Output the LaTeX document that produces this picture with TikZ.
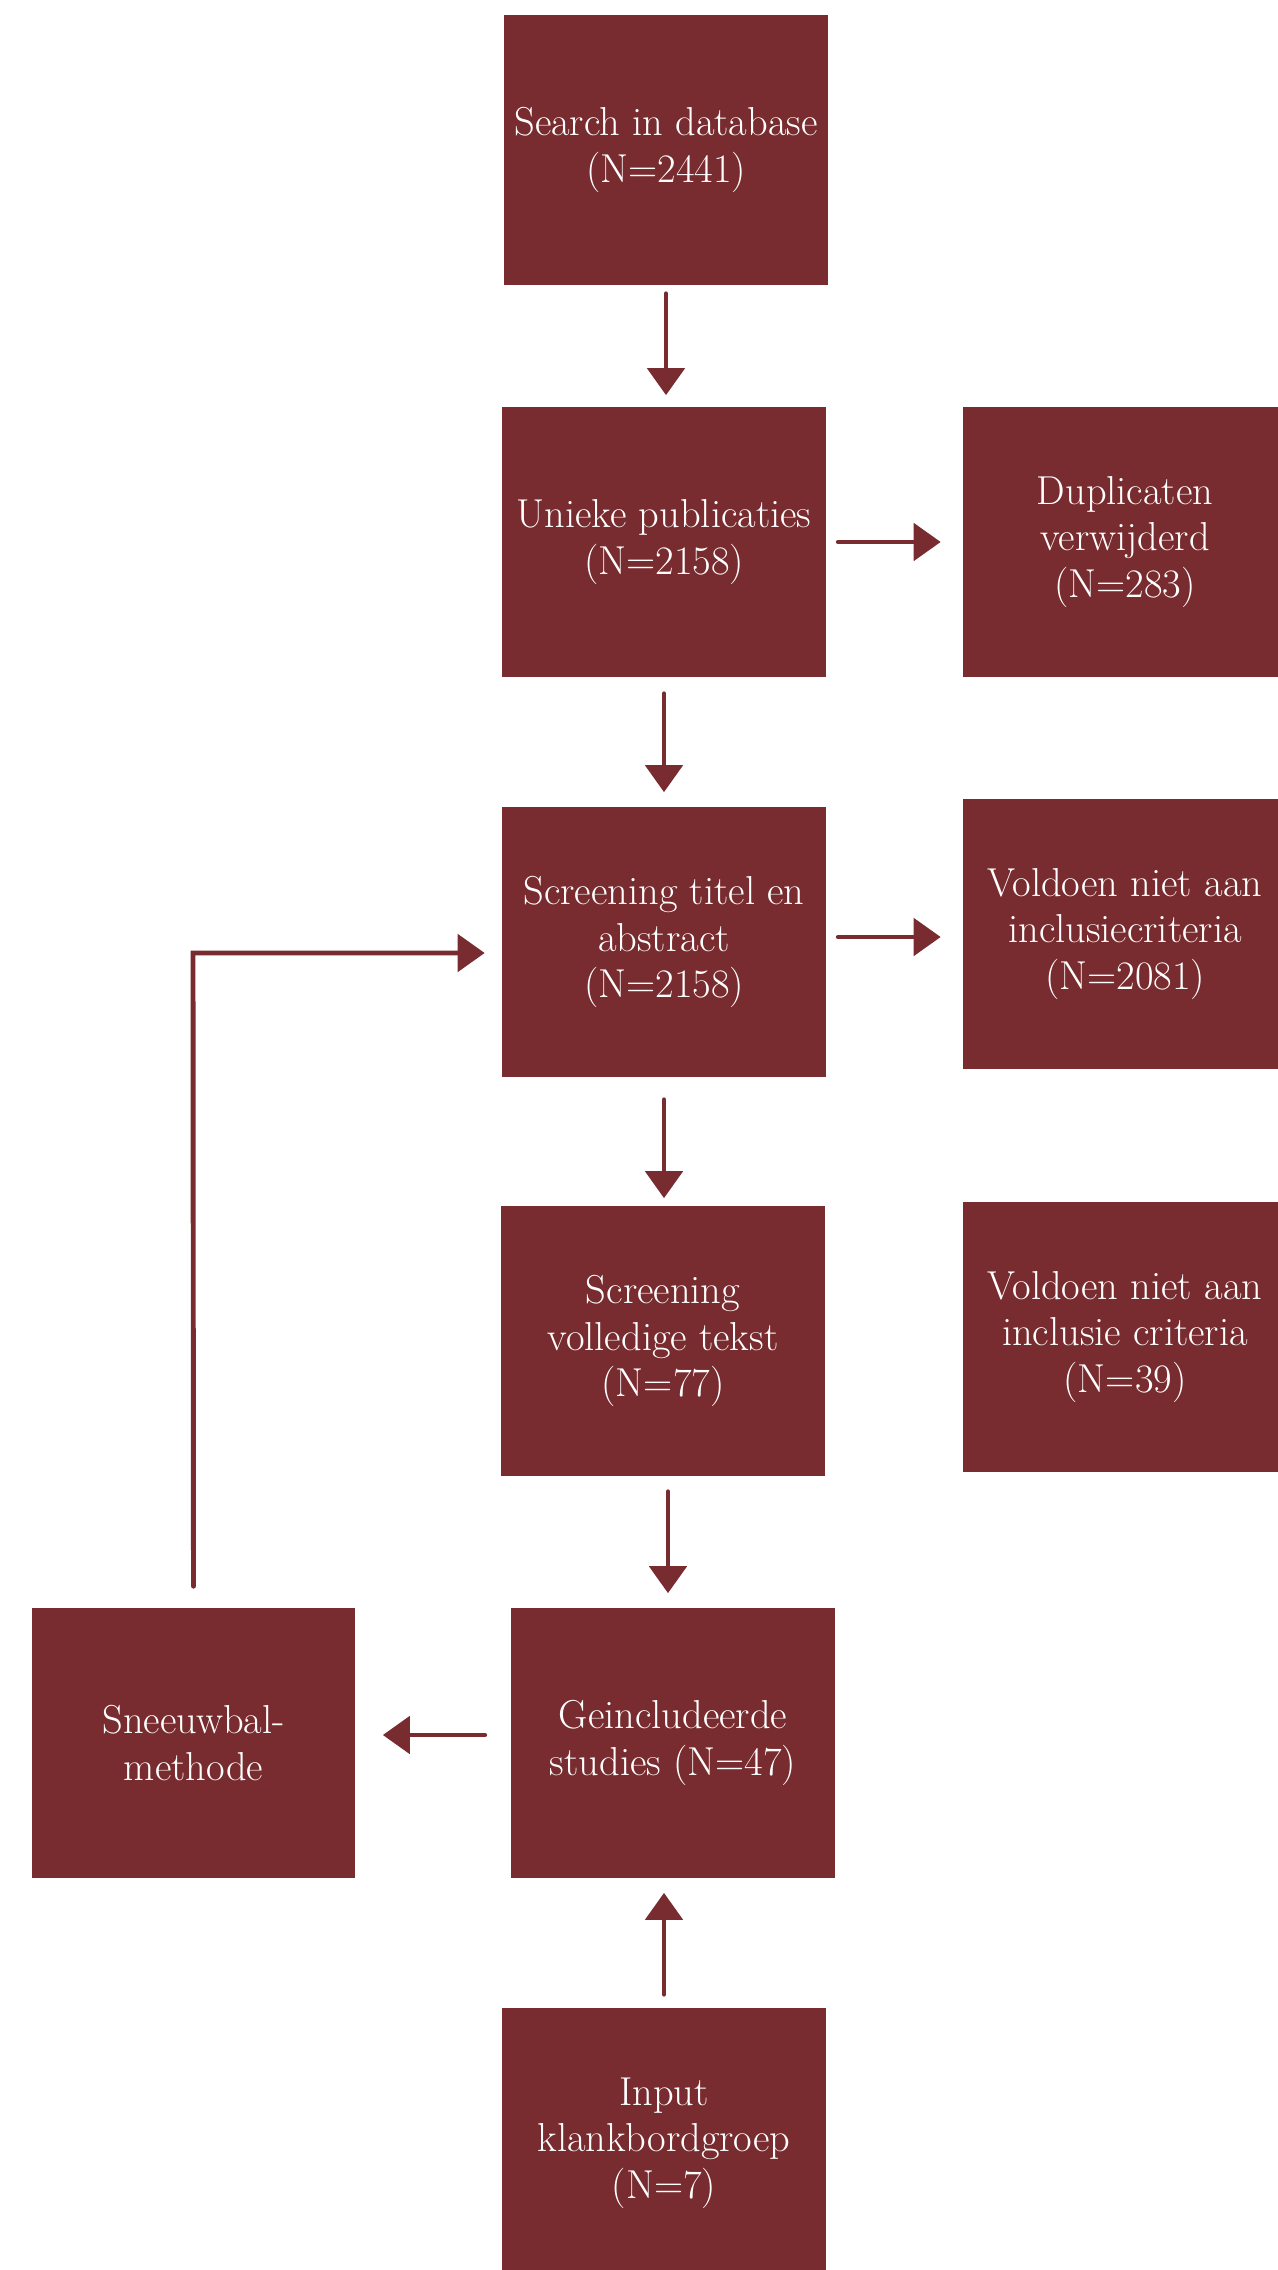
\documentclass[tikz,border=0pt]{standalone}
\usepackage{tikz}
\usetikzlibrary{arrows.meta}
\definecolor{boxred}{RGB}{120,44,47}

\begin{document}
\begin{tikzpicture}[x=0.02cm,y=-0.02cm,
	box/.style={fill=boxred,draw=none,text=white,align=center,minimum width=6.48cm,minimum height=5.42cm,inner sep=0pt,font=\fontsize{23}{26.5}\selectfont},
	flow/.style={draw=boxred,line width=2.8pt,line cap=round,-{Triangle[width=0.74cm,length=0.54cm]},shorten <=0.2cm,shorten >=0.24cm}]
	\useasboundingbox (0,0) rectangle (1277,2270);
	% middle column
	\node[box] (search) at (666,150) {Search in database\\(N=2441)};
	\node[box] (unieke) at (664,542) {Unieke publicaties\\(N=2158)};
	\node[box] (titel) at (664,942) {Screening titel en\\abstract\\(N=2158)};
	\node[box] (volledig) at (663,1341) {Screening\\volledige tekst\\(N=77)};
	\node[box] (geincl) at (673,1743) {Geincludeerde\\studies (N=47)};
	\node[box] (input) at (664,2143) {Input\\klankbordgroep\\(N=7)};
	% right column
	\node[box] (dupl) at (1125,542) {Duplicaten\\verwijderd\\(N=283)};
	\node[box] (excl1) at (1125,934) {Voldoen niet aan\\inclusiecriteria\\(N=2081)};
	\node[box] (excl2) at (1125,1337) {Voldoen niet aan\\inclusie criteria\\(N=39)};
	% left
	\node[box] (sneeuw) at (193.5,1743) {Sneeuwbal-\\methode};
	
	% arrows down
	\draw[flow,shorten <=0.16cm,shorten >=0.22cm] (search.south) -- (search.south |- unieke.north);
	\draw[flow,shorten <=0.32cm,shorten >=0.28cm] (unieke.south) -- (titel.north);
	\draw[flow,shorten <=0.44cm,shorten >=0.14cm] (titel.south) -- (titel.south |- volledig.north);
	\draw[flow,shorten <=0.3cm,shorten >=0.28cm] ([xshift=0.1cm]volledig.south) -- ([xshift=0.1cm]volledig.south |- geincl.north);
	\draw[flow,shorten <=0.26cm,shorten >=0.28cm] (input.north) -- (input.north |- geincl.south);
	% arrows sideways
	\draw[flow,shorten <=0.24cm,shorten >=0.44cm] (unieke.east) -- (dupl.west);
	\draw[flow,shorten <=0.24cm,shorten >=0.44cm] ([yshift=0.1cm]titel.east) -- ([yshift=0.1cm]titel.east -| excl1.west);
	\draw[flow,shorten <=0.52cm,shorten >=0.54cm] ([yshift=0.16cm]geincl.west) -- ([yshift=0.16cm]geincl.west -| sneeuw.east);
	
	% snowball loop back
	\coordinate (knee) at (193,953);
	\draw[flow,shorten <=0.42cm,shorten >=0.34cm] (sneeuw.north) -- (knee) -- (knee -| titel.west);
\end{tikzpicture}
\end{document}
